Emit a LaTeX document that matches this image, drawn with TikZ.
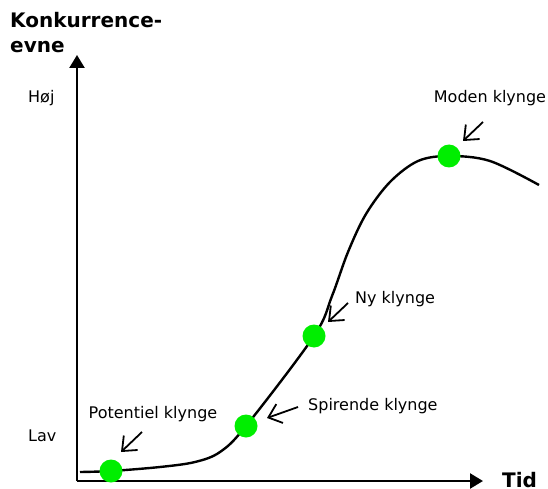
\documentclass[tikz,border=0pt]{standalone}
\usepackage{fontspec}
\setmainfont{DejaVu Sans}
\usetikzlibrary{arrows.meta}
\definecolor{dotgreen}{HTML}{00EE00}
\begin{document}
\begin{tikzpicture}[x=1pt,y=-1pt,every node/.style={font=\fontsize{16}{19}\selectfont,inner sep=0pt},
  axis/.style={line width=2.4pt,-{Triangle[length=13pt,width=15pt]}},
  pointer/.style={line width=1.8pt,-{Straight Barb[length=12pt,width=20pt]}},
  stage/.style={circle,fill=dotgreen,minimum size=23pt},
  heading/.style={font=\fontsize{20}{25}\selectfont\bfseries,anchor=base west}]
\useasboundingbox (0,0) rectangle (548,489);
\coordinate (origin) at (77,481);
\coordinate (ytop) at (77,55);
\coordinate (xend) at (483,481);
\draw[axis] (origin) -- (ytop);
\draw[axis] (origin) -- (xend);
\node[heading,align=left] (yname) at (10,53) {Konkurrence-\\evne};
\node[heading] (xname) at (502,487) {Tid};
\node[anchor=base west] (high) at (28,103) {Høj};
\node[anchor=base west] (low) at (28,441) {Lav};
% growth curve
\draw[line width=2.4pt] plot[smooth,tension=0.55] coordinates {(80,472) (111,471) (160,467) (195,462) (220,452) (246,426) (314,336) (332,296) (348,252) (366,214) (390,182) (418,161) (449,156) (490,161) (539,185)};
\node[stage] (potential) at (111,471) {};
\node[stage] (sprouting) at (246,426) {};
\node[stage] (new) at (314,336) {};
\node[stage] (mature) at (449,156) {};
% labels
\node[anchor=base] (potentiallabel) at (153,418) {Potentiel klynge};
\node[anchor=base west] (sproutinglabel) at (308,410) {Spirende klynge};
\node[anchor=base west] (newlabel) at (355,303) {Ny klynge};
\node[anchor=base] (maturelabel) at (490,103) {Moden klynge};
\coordinate (potentialtail) at (142,432);
\coordinate (potentialtip) at (121,452);
\coordinate (sproutingtail) at (298,407);
\coordinate (sproutingtip) at (267,418);
\coordinate (newtail) at (348,303);
\coordinate (newtip) at (328,322);
\coordinate (maturetail) at (483,122);
\coordinate (maturetip) at (463,141);
\draw[pointer] (potentialtail) -- (potentialtip);
\draw[pointer] (sproutingtail) -- (sproutingtip);
\draw[pointer] (newtail) -- (newtip);
\draw[pointer] (maturetail) -- (maturetip);
\end{tikzpicture}
\end{document}
